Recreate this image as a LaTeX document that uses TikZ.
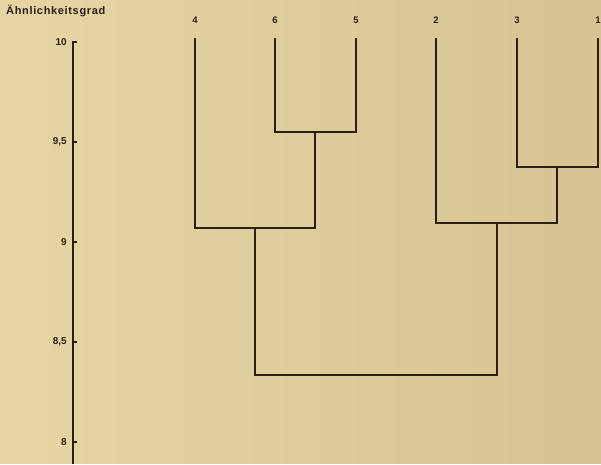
\documentclass[tikz,border=0pt]{standalone}
\usepackage{fontspec}
\setmainfont{Liberation Sans}
\newfontfamily\titlefont[LetterSpace=6]{Liberation Sans}
\usetikzlibrary{positioning}
\definecolor{ink}{RGB}{45,30,20}
\definecolor{bgl}{RGB}{231,213,163}
\definecolor{bgr}{RGB}{215,195,147}

\begin{document}
\begin{tikzpicture}[
  x=1pt, y=200pt,
  line/.style={draw=ink, line width=1.2pt},
  leaf/.style={font=\bfseries\fontsize{9.5}{11}\selectfont, text=ink, inner sep=0pt},
  tick/.style={font=\bfseries\fontsize{10}{12}\selectfont, text=ink, inner sep=0pt, anchor=east}
]
\useasboundingbox (0,7.89) rectangle (601,10.21);
\shade[left color=bgl, right color=bgr] (0,7.89) rectangle (601,10.21);

\node[font=\titlefont\bfseries\fontsize{11}{13}\selectfont, text=ink, inner sep=0pt, anchor=west] (title) at (6,10.155) {Ähnlichkeitsgrad};

% axis
\coordinate (atop) at (77,10);
\coordinate (a10) at (73,10);
\coordinate (abot) at (73,7.89);
\draw[line] (atop) -- (a10) -- (abot);
\node[tick] (v10) at (67,10) {10};
\foreach \v/\t in {9.5/{9,5}, 9/9, 8.5/{8,5}, 8/8} {
  \draw[line] (73,\v) -- ++(4pt,0);
  \node[tick] (v\v) at (67,\v) {\t};
}

% leaves
\foreach \n/\x in {4/195, 6/275, 5/356, 2/436, 3/517, 1/598} {
  \node[leaf] (n\n) at (\x,10.11) {\n};
  \coordinate (t\n) at (\x,10.02);
}

% merges
\coordinate (m65) at (315,9.55);
\coordinate (m31) at (557,9.375);
\coordinate (m465) at (255,9.07);
\coordinate (m231) at (497,9.095);
\coordinate (mall) at (376,8.335);

\draw[line] (t6) |- (m65) -| (t5);
\draw[line] (t3) |- (m31) -| (t1);
\draw[line] (t4) |- (m465) -| (m65);
\draw[line] (t2) |- (m231) -| (m31);
\draw[line] (m465) |- (mall) -| (m231);
\end{tikzpicture}
\end{document}
